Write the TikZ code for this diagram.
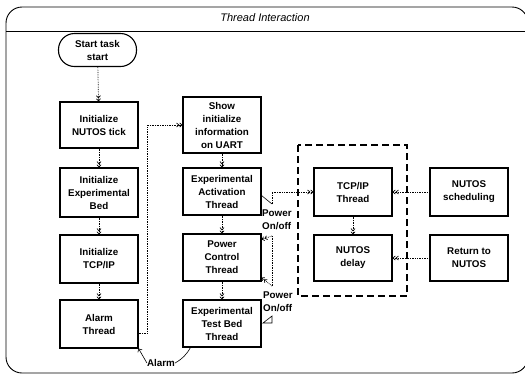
\documentclass[tikz,border=0pt]{standalone}
\usepackage{fontspec}
\setmainfont{Liberation Sans}
\usetikzlibrary{arrows.meta}

\begin{document}
\begin{tikzpicture}[x=1pt,y=-1pt,
    stepbox/.style={draw, line width=1.1pt, minimum width=78pt, minimum height=47pt,
      align=center, inner sep=1pt, font=\bfseries\fontsize{9.8}{13}\selectfont},
    startbox/.style={stepbox, rounded corners=16pt, minimum height=33pt},
    flow/.style={densely dotted, line width=0.7pt,
      -{Straight Barb[length=2.2pt,width=4pt]Straight Barb[length=2.2pt,width=4pt]}},
    lbl/.style={inner sep=0pt, align=left, font=\bfseries\fontsize{9.8}{13}\selectfont},
    groupbox/.style={line width=1.4pt, dash pattern=on 7pt off 4pt}]
        \useasboundingbox (0,0) rectangle (525,376);
        % frame and title
        \draw[line width=0.9pt, rounded corners=16pt] (6,7) rectangle (528,373);
        \draw[line width=0.8pt] (6,31) -- (528,31);
        \node[font=\itshape\fontsize{11}{13}\selectfont] (title) at (265,18) {Thread Interaction};

        % start-up column
        \node[startbox] (start) at (97.5,50) {Start task\\start};
        \node[stepbox, minimum height=46pt] (tick) at (99,125) {Initialize\\NUTOS tick};
        \node[stepbox, minimum height=49pt] (bed) at (99,192.5) {Initialize\\Experimental\\Bed};
        \node[stepbox, minimum height=48pt] (tcp) at (99,259) {Initialize\\TCP/IP};
        \node[stepbox, minimum height=48pt] (alarm) at (99,324) {Alarm\\Thread};

        % thread column
        \node[stepbox, minimum height=56pt] (uart) at (222,125) {Show\\initialize\\information\\on UART};
        \node[stepbox] (act) at (222,191.5) {Experimental\\Activation\\Thread};
        \node[stepbox] (pwr) at (222,257.5) {Power\\Control\\Thread};
        \node[stepbox] (tb) at (222,323.5) {Experimental\\Test Bed\\Thread};

        % network part
        \draw[groupbox] (298,145) rectangle (407,296);
        \node[stepbox, minimum height=48pt] (tcpth) at (353,192) {TCP/IP\\Thread};
        \node[stepbox, minimum height=46pt] (delay) at (353,258) {NUTOS\\delay};
        \node[stepbox, minimum height=48pt] (sched) at (469,192) {NUTOS\\scheduling};
        \node[stepbox, minimum height=46pt] (ret) at (469,258) {Return to\\NUTOS};

        \foreach \a/\b in {start/tick, tick/bed, bed/tcp, tcp/alarm, uart/act, act/pwr, pwr/tb, tcpth/delay}
          \draw[flow] (\a) -- (\b);
        \draw[flow] ([yshift=-9pt]alarm.east) -- ++(9,0) |- (uart.west);
        \draw[flow] (sched) -- (tcpth);
        \draw[flow] (ret) -- (delay);

        % power on/off
        \coordinate (pw) at (272,204);
        \coordinate (pa) at (272,236);
        \coordinate (pb) at (272,286);
        \draw[line width=0.6pt] ([yshift=-4pt]act.east) -- (pw);
        \draw[flow] (pw) -- (272,192) -- (tcpth.west);
        \node[lbl, anchor=west] (pwlbl1) at (262,219.5) {Power\\On/off};
        \draw[densely dotted, line width=0.7pt] (pa) -- (pb);
        \draw[flow] (pa) -- ([yshift=-6pt]pwr.north east);
        \draw[flow] (pb) -- ([yshift=4pt]pwr.south east);
        \node[lbl, anchor=west] (pwlbl2) at (263,301.5) {Power\\On/off};
        \draw[line width=0.6pt] (263,323) -- (272,316) -- (272,323) -- cycle;

        % alarm
        \node[lbl] (alarmtxt) at (161,363) {Alarm};
        \draw[line width=0.6pt] ([xshift=8pt]tb.south west) to[bend left=15] (alarmtxt.east);
        \draw[line width=0.6pt, -{Straight Barb[length=2.5pt]}] (alarmtxt.west) -- (alarm.south east);
      \end{tikzpicture}
\end{document}
